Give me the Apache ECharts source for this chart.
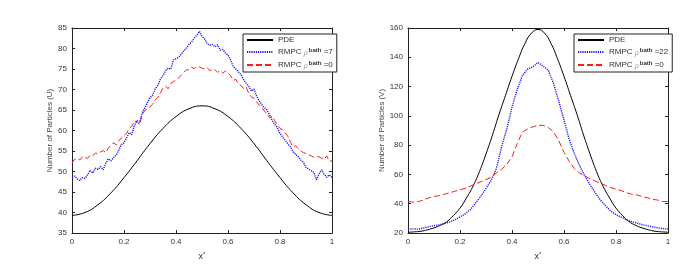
<!DOCTYPE html>
<html><head><meta charset="utf-8">
<script src="https://cdn.jsdelivr.net/npm/echarts@6/dist/echarts.min.js"></script>
<style>html,body{margin:0;padding:0;background:#fff}#c{width:694px;height:267px}</style>
</head><body><div id="c"></div>
<script>
// ---- data ----
// PDE (U) at x = 0, 0.05, ..., 1
var pdeU = [39.3, 40.0, 41.9, 44.8, 48.5, 52.6, 56.8, 60.5, 63.4, 65.3, 66.0, 65.3, 63.4, 60.5, 56.8, 52.6, 48.5, 44.8, 41.9, 40.0, 39.3];
// RMPC rho_bath=7 (U) at x = 0, 0.01, ..., 1
var rmpc7U = [48.6, 48.9, 48.2, 47.8, 48.5, 48.3, 49.2, 50.3, 49.6, 50.8, 50.5,
  51.2, 50.4, 52.0, 53.1, 52.6, 53.4, 54.0, 55.2, 56.6, 57.0,
  58.2, 59.5, 59.0, 61.2, 62.4, 62.0, 64.3, 65.5, 66.8, 68.0,
  68.6, 70.2, 71.0, 72.5, 73.4, 74.6, 75.2, 75.0, 77.2, 77.5,
  77.9, 78.6, 79.4, 80.1, 81.0, 81.6, 82.5, 83.2, 84.2, 83.0,
  82.3, 81.2, 80.8, 81.0, 80.4, 80.9, 79.6, 79.8, 78.9, 78.4,
  77.2, 75.6, 75.0, 74.3, 73.6, 72.4, 71.5, 70.8, 69.6, 70.1,
  68.4, 67.2, 66.3, 65.6, 65.0, 63.8, 62.4, 61.5, 60.6, 59.3,
  58.4, 57.6, 56.8, 56.0, 54.8, 54.2, 53.6, 52.8, 52.3, 51.0,
  50.6, 50.2, 49.8, 48.0, 49.4, 50.4, 49.3, 48.6, 49.2, 48.5];
// RMPC rho_bath=0 (U) at x = 0, 0.01, ..., 1
var rmpc0U = [52.0, 53.0, 53.2, 52.8, 53.6, 53.5, 53.2, 54.0, 53.8, 54.5, 54.4,
  54.8, 55.1, 54.6, 55.8, 56.3, 57.0, 56.5, 57.5, 58.2, 58.8,
  59.3, 60.5, 61.0, 62.3, 62.2, 61.4, 63.8, 64.9, 65.3, 65.8,
  66.4, 67.5, 68.0, 69.2, 70.3, 70.8, 70.2, 71.5, 71.9, 72.4,
  72.8, 73.5, 74.2, 74.8, 74.8, 75.4, 75.1, 75.6, 75.5, 75.2,
  75.0, 75.3, 74.6, 74.9, 74.8, 74.2, 74.6, 74.0, 74.5, 74.0,
  73.4, 72.2, 72.5, 71.4, 71.0, 70.2, 70.6, 69.0, 68.2, 67.8,
  67.0, 66.2, 65.6, 64.8, 64.0, 63.1, 63.5, 62.4, 61.3, 60.5,
  60.2, 59.4, 58.6, 57.2, 56.0, 56.3, 55.6, 55.0, 54.6, 54.4,
  54.1, 53.8, 53.5, 53.6, 53.6, 53.2, 53.0, 53.8, 52.5, 52.6];
// PDE (V) at x = 0, 0.025, ..., 1
var pdeV = [20.5, 20.8, 21.2, 22.2, 23.5, 25.3, 27.8, 32.0, 37.0, 44.0, 52.0, 62.0, 74.0, 87.0, 101.0, 114.0, 127.0, 139.0, 149.5, 156.5, 159.0,
  156.5, 149.5, 139.0, 127.0, 114.0, 101.0, 87.0, 74.0, 62.0, 52.0, 44.0, 37.0, 32.0, 27.8, 25.3, 23.5, 22.2, 21.2, 20.8, 20.5];
// RMPC rho_bath=22 (V) at x = 0, 0.02, ..., 1
var rmpc22V = [22.5, 22.8, 22.6, 23.5, 24.2, 25.0, 25.5, 26.5, 27.5, 29.0, 31.0,
  33.0, 36.0, 40.5, 45.0, 50.5, 56.0, 64.0, 79.0, 91.0, 106.0,
  118.0, 127.5, 132.0, 133.5, 136.5, 134.0, 131.0, 122.0, 110.0, 97.0,
  84.0, 74.0, 66.0, 59.0, 53.0, 47.5, 42.5, 38.5, 35.0, 32.5,
  30.8, 29.0, 27.8, 26.8, 25.8, 25.0, 24.2, 23.6, 23.0, 22.7];
// RMPC rho_bath=0 (V) at x = 0, 0.02, ..., 1
var rmpc0V = [41.5, 41.0, 41.5, 42.5, 44.0, 45.0, 45.5, 46.5, 47.5, 48.5, 49.5,
  50.5, 52.0, 53.5, 55.0, 56.5, 58.0, 61.0, 63.5, 67.0, 72.0,
  81.0, 89.0, 91.0, 92.5, 93.5, 93.5, 92.0, 89.0, 83.0, 75.0,
  69.0, 64.0, 61.0, 59.0, 57.0, 55.5, 54.0, 52.5, 51.0, 50.0,
  49.0, 47.5, 46.5, 46.0, 45.0, 44.0, 43.0, 42.5, 41.5, 41.5];

function pairs(arr, step) { return arr.map(function (v, i) { return [Math.round(i * step * 1000) / 1000, v]; }); }

var labelNames = {
  PDE_U: 'PDE', R7_U: '{a|RMPC }{r|ρ}{s|bath}{a| =7}', R0_U: '{a|RMPC }{r|ρ}{s|bath}{a| =0}',
  PDE_V: 'PDE', R22_V: '{a|RMPC }{r|ρ}{s|bath}{a| =22}', R0_V: '{a|RMPC }{r|ρ}{s|bath}{a| =0}'
};
var FONT = 'Liberation Sans';
var TXT = '#333';
var richLeg = {
  a: { fontSize: 8, color: TXT, fontFamily: FONT },
  r: { fontSize: 7, color: '#999', fontStyle: 'italic', fontFamily: FONT, padding: [3, 1, 0, 0] },
  s: { fontSize: 6, color: TXT, fontWeight: 'bold', fontFamily: FONT, padding: [0, 0, 4, 0] }
};

function xAx(gi, pos) {
  return {
    type: 'value', gridIndex: gi, position: pos, min: 0, max: 1, interval: 0.2,
    axisLine: { show: true, onZero: false, lineStyle: { color: '#222', width: 1 } },
    axisTick: { show: true, inside: true, length: 3, lineStyle: { color: '#222' } },
    axisLabel: { show: pos === 'bottom', fontSize: 8, color: TXT, fontFamily: FONT, margin: 5 },
    splitLine: { show: false },
    name: pos === 'bottom' ? '{a|x}{s|*}' : '', nameLocation: 'middle', nameGap: 17,
    nameTextStyle: { rich: { a: { fontSize: 9, color: TXT, fontFamily: FONT }, s: { fontSize: 6, color: TXT, fontFamily: FONT, padding: [0, 0, 5, 0] } } }
  };
}
function yAx(gi, pos, min, max, itv, name, gap) {
  return {
    type: 'value', gridIndex: gi, position: pos, min: min, max: max, interval: itv,
    axisLine: { show: true, onZero: false, lineStyle: { color: '#222', width: 1 } },
    axisTick: { show: true, inside: true, length: 3, lineStyle: { color: '#222' } },
    axisLabel: { show: pos === 'left', fontSize: 8, color: TXT, fontFamily: FONT, margin: 5 },
    splitLine: { show: false },
    name: pos === 'left' ? name : '', nameLocation: 'middle', nameGap: gap || 0,
    nameTextStyle: { fontSize: 8, color: '#444', fontFamily: FONT }
  };
}
function legend(left, names) {
  return {
    orient: 'vertical', left: left, top: 34, itemWidth: 26, itemHeight: 8, itemGap: 3,
    padding: [2, 4, 2, 3], borderColor: '#222', borderWidth: 1, backgroundColor: '#fff',
    itemStyle: { opacity: 0 },
    data: names, formatter: function (n) { return labelNames[n]; },
    textStyle: { fontSize: 8, color: TXT, fontFamily: FONT, rich: richLeg }
  };
}
function line(name, data, xi, yi, color, type, width, smooth) {
  return {
    name: name, type: 'line', xAxisIndex: xi, yAxisIndex: yi, data: data, symbol: 'none', smooth: smooth || false,
    lineStyle: { color: color, type: type, width: width }, itemStyle: { color: color }, animation: false, z: 3
  };
}

var chart = echarts.init(document.getElementById('c'), null, { renderer: 'canvas' });
chart.setOption({
  animation: false,
  backgroundColor: '#fff',
  grid: [
    { left: 72, top: 28, width: 260, height: 205, containLabel: false },
    { left: 408, top: 28, width: 260, height: 205, containLabel: false }
  ],
  xAxis: [xAx(0, 'bottom'), xAx(0, 'top'), xAx(1, 'bottom'), xAx(1, 'top')],
  yAxis: [yAx(0, 'left', 35, 85, 5, 'Number of Particles (U)', 14), yAx(0, 'right', 35, 85, 5, ''),
          yAx(1, 'left', 20, 160, 20, 'Number of Particles (V)', 21), yAx(1, 'right', 20, 160, 20, '')],
  legend: [legend(243, ['PDE_U', 'R7_U', 'R0_U']), legend(574, ['PDE_V', 'R22_V', 'R0_V'])],
  series: [
    line('PDE_U', pairs(pdeU, 0.05), 0, 0, '#000', 'solid', 1, true),
    line('R7_U', pairs(rmpc7U, 0.01), 0, 0, '#1a1aff', [1.2, 1], 1.4),
    line('R0_U', pairs(rmpc0U, 0.01), 0, 0, '#ff1a1a', [6, 3], 1),
    line('PDE_V', pairs(pdeV, 0.025), 2, 2, '#000', 'solid', 1, true),
    line('R22_V', pairs(rmpc22V, 0.02), 2, 2, '#1a1aff', [1.2, 1], 1.4),
    line('R0_V', pairs(rmpc0V, 0.02), 2, 2, '#ff1a1a', [6, 3], 1)
  ]
});
</script></body></html>
